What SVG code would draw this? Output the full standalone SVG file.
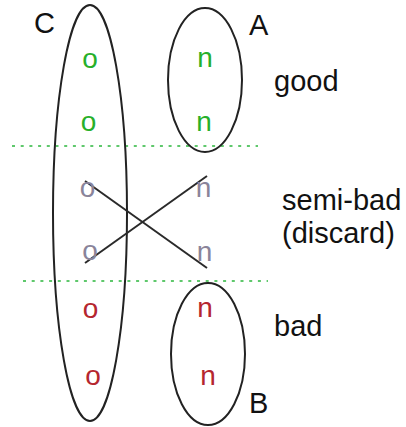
<svg xmlns="http://www.w3.org/2000/svg" width="406" height="427" viewBox="0 0 406 427">
<style>
.set{fill:none;stroke:#222;stroke-width:2}
.lbl{font-family:"Liberation Sans",Arial,sans-serif;font-size:29px;fill:#111}
.ch{font-family:"Liberation Sans",Arial,sans-serif;font-size:28px;text-anchor:middle}
.g{fill:#27b02a}
.s{fill:#8a849a}
.r{fill:#b5262f}
.sep{stroke:#5fc86c;stroke-width:2.2;stroke-dasharray:3 5.7;fill:none}
.con{stroke:#2a2a2a;stroke-width:2;fill:none}
</style>
<rect width="406" height="427" fill="#fff"/>
<g id="separators">
<line class="sep" x1="12" y1="146" x2="258" y2="146"/>
<line class="sep" x1="23" y1="281" x2="268" y2="281"/>
</g>
<g id="setC">
<ellipse class="set" cx="90" cy="213" rx="37" ry="208"/>
<text class="lbl" x="34" y="33">C</text>
</g>
<g id="setA">
<ellipse class="set" cx="205" cy="80" rx="37" ry="72"/>
<text class="lbl" x="249" y="35">A</text>
</g>
<g id="setB">
<ellipse class="set" cx="208" cy="354" rx="37" ry="71"/>
<text class="lbl" x="249" y="413">B</text>
</g>
<g id="connectors">
<line class="con" x1="85" y1="181" x2="207" y2="268"/>
<line class="con" x1="85" y1="263" x2="207" y2="176"/>
</g>
<g id="items">
<text class="ch g" x="90" y="68">o</text>
<text class="ch g" x="88.5" y="131">o</text>
<text class="ch g" x="205" y="67">n</text>
<text class="ch g" x="204" y="131">n</text>
<text class="ch s" x="87.5" y="197">o</text>
<text class="ch s" x="90" y="260">o</text>
<text class="ch s" x="203.5" y="197">n</text>
<text class="ch s" x="204.5" y="261">n</text>
<text class="ch r" x="90.5" y="318">o</text>
<text class="ch r" x="93" y="385">o</text>
<text class="ch r" x="205" y="317">n</text>
<text class="ch r" x="208" y="385">n</text>
</g>
<g id="labels">
<text class="lbl" x="274" y="91">good</text>
<text class="lbl" x="282" y="210">semi-bad</text>
<text class="lbl" x="282" y="243">(discard)</text>
<text class="lbl" x="274" y="336">bad</text>
</g>
</svg>
